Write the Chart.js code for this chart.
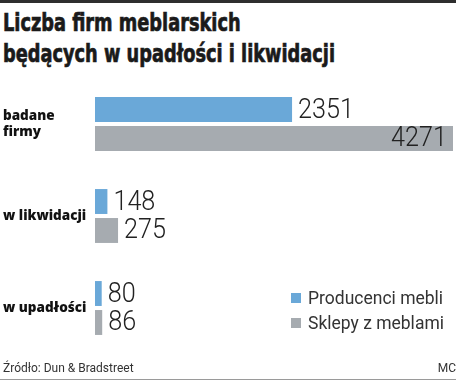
<!DOCTYPE html>
<html><head><meta charset="utf-8">
<script src="https://cdn.jsdelivr.net/npm/chart.js@4/dist/chart.umd.min.js"></script>
<style>
html,body{margin:0;padding:0;background:#fff;}
#wrap{position:relative;width:458px;height:382px;overflow:hidden;}
#topRule{position:absolute;left:0;top:0;width:456px;height:3px;background:#2e2e2e;}
.title{position:absolute;left:3px;font-family:'DejaVu Sans Condensed','DejaVu Sans',sans-serif;font-weight:bold;font-size:25px;color:#1a1a1a;white-space:nowrap;line-height:1;transform:scaleX(0.79);transform-origin:0 0;-webkit-text-stroke:0.7px #1a1a1a;}
#c{position:absolute;left:0;top:0;}
#legend{position:absolute;left:291px;top:285px;font-family:Roboto,sans-serif;font-size:17.5px;color:#333;}
.li{display:flex;align-items:center;height:25px;}
.sw{width:10px;height:10px;margin-right:7px;}
#src{position:absolute;left:3px;top:361px;font-family:Roboto,sans-serif;font-size:12px;color:#333;}
#mc{position:absolute;right:2px;top:361px;font-family:Roboto,sans-serif;font-size:12px;color:#333;}
#botRule{position:absolute;left:0;top:379px;width:456px;height:1px;background:#9a9a9a;}
</style></head>
<body><div id="wrap">
<div id="topRule"></div>
<div class="title" id="t1" style="top:10px">Liczba firm meblarskich</div>
<div class="title" id="t2" style="top:41px">będących w upadłości i likwidacji</div>
<canvas id="c" width="458" height="382"></canvas>
<div id="legend"></div>
<div id="src">Źródło: Dun &amp; Bradstreet</div>
<div id="mc">MC</div>
<div id="botRule"></div>
</div>
<script>
const categories = [['badane','firmy'], 'w likwidacji', 'w upadłości'];
const seriesNames = ['Producenci mebli', 'Sklepy z meblami'];
const producenci = [2351, 148, 80];
const sklepy = [4271, 275, 86];
const colors = ['#6aa8d8', '#a6abb0'];

// legend
const leg = document.getElementById('legend');
seriesNames.forEach((n,i)=>{
  const d=document.createElement('div');d.className='li';
  d.innerHTML='<span class="sw" style="background:'+colors[i]+'"></span><span>'+n+'</span>';
  leg.appendChild(d);
});

const valueLabels = {
  id:'valueLabels',
  afterDatasetsDraw(chart){
    const ctx=chart.ctx;
    const area=chart.chartArea;
    const sx=0.9;
    ctx.save();
    ctx.font='300 28px Roboto, sans-serif';
    ctx.fillStyle='#222';
    ctx.textBaseline='middle';
    chart.data.datasets.forEach((ds,di)=>{
      const meta=chart.getDatasetMeta(di);
      meta.data.forEach((bar,i)=>{
        const txt=String(ds.data[i]);
        const w=ctx.measureText(txt).width*sx;
        ctx.save();
        if(bar.x+6+w>area.right+2){
          ctx.translate(bar.x-6,bar.y+1);
          ctx.scale(sx,1);
          ctx.textAlign='right';
        } else {
          ctx.translate(bar.x+6,bar.y+1);
          ctx.scale(sx,1);
          ctx.textAlign='left';
        }
        ctx.fillText(txt,0,0);
        ctx.restore();
      });
    });
    ctx.restore();
  }
};

new Chart(document.getElementById('c'),{
  type:'bar',
  data:{
    labels:categories,
    datasets:[
      {label:seriesNames[0],data:producenci,backgroundColor:colors[0],barPercentage:0.86,categoryPercentage:0.63},
      {label:seriesNames[1],data:sklepy,backgroundColor:colors[1],barPercentage:0.86,categoryPercentage:0.63}
    ]
  },
  options:{
    indexAxis:'y',
    responsive:false,
    animation:false,
    layout:{padding:{left:3,right:5,top:78,bottom:28}},
    plugins:{legend:{display:false},tooltip:{enabled:false}},
    scales:{
      x:{display:false,min:0,max:4271,grid:{display:false}},
      y:{
        grid:{display:false},
        border:{display:false},
        ticks:{crossAlign:'far',color:'#111',font:{family:'Open Sans, sans-serif',weight:800,size:13.5},padding:0,lineHeight:1.3},
        afterFit(s){s.width=92;}
      }
    }
  },
  plugins:[valueLabels]
});
</script>
</body></html>
